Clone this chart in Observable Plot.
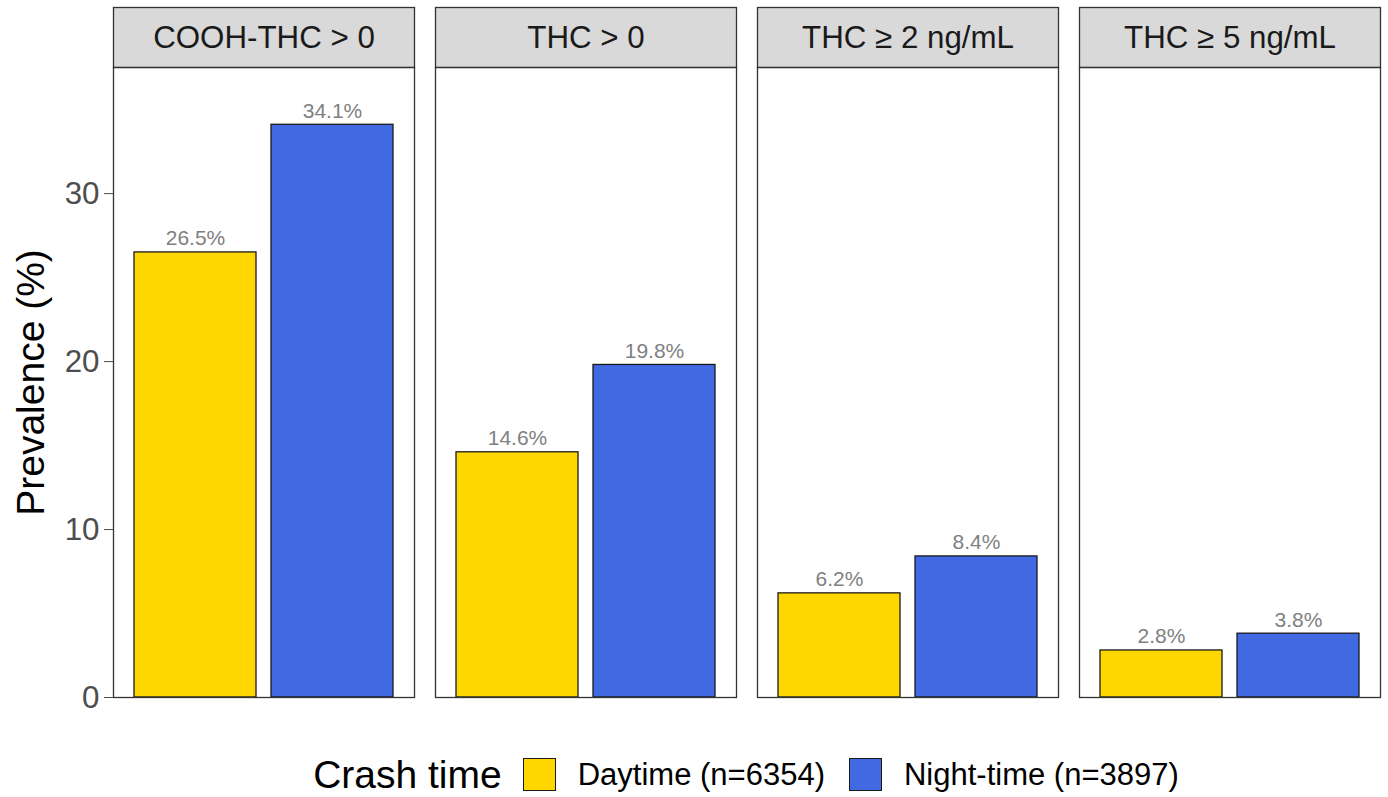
<!DOCTYPE html>
<html>
<head>
<meta charset="utf-8">
<script src="https://cdn.jsdelivr.net/npm/d3@7"></script>
<script src="https://cdn.jsdelivr.net/npm/@observablehq/plot@0.6"></script>
<style>
  html, body { margin: 0; padding: 0; background: #fff; }
  body { width: 1388px; height: 797px; overflow: hidden; font-family: "Liberation Sans", Arial, Helvetica, sans-serif; }
  #chart svg { display: block; }
  #legend { display: flex; align-items: center; justify-content: center; box-sizing: border-box;
    width: 1388px; padding-left: 112px; padding-right: 8px; margin-top: 28px; height: 33px; color: #000; }
  #legend .title { font-size: 39px; margin-right: 21px; }
  #legend .key { width: 31px; height: 31px; border: 1px solid #1a1a1a; margin-right: 22px; }
  #legend .lab { font-size: 31px; margin-right: 24px; }
  #legend .lab:last-child { margin-right: 0; }
</style>
</head>
<body>
<div id="chart"></div>
<div id="legend"></div>
<script>
// ---- data ----
const panels = ["COOH-THC > 0", "THC > 0", "THC \u2265 2 ng/mL", "THC \u2265 5 ng/mL"];
const times = ["Daytime", "Night-time"];
const daytimeValues = [26.5, 14.6, 6.2, 2.8];
const nightValues = [34.1, 19.8, 8.4, 3.8];
const legendTitle = "Crash time";
const legendLabels = ["Daytime (n=6354)", "Night-time (n=3897)"];
const timeColors = ["#FFD700", "#4169E1"];
const yTicks = [0, 10, 20, 30];
const yLabel = "Prevalence (%)";

const rows = [];
panels.forEach((p, i) => {
  rows.push({panel: p, time: times[0], value: daytimeValues[i]});
  rows.push({panel: p, time: times[1], value: nightValues[i]});
});

const W = 1388, H = 730, mTop = 67, mBottom = 33, mLeft = 112, mRight = 8;
const plotH = H - mTop - mBottom;
const stripH = 60;
const yMax = d3.max(rows, d => d.value) * 1.1;

const chart = Plot.plot({
  width: W,
  height: H,
  marginTop: mTop,
  marginBottom: mBottom,
  marginLeft: mLeft,
  marginRight: mRight,
  style: {fontFamily: '"Liberation Sans", Arial, Helvetica, sans-serif', background: "#fff"},
  fx: {domain: panels, axis: null, paddingInner: 21 / 322, paddingOuter: 0},
  x: {domain: times, axis: null, paddingInner: 0.1095, paddingOuter: 0.153},
  y: {domain: [0, yMax], axis: null},
  color: {domain: times, range: timeColors},
  marks: [
    // strip backgrounds
    Plot.frame({fill: "#d9d9d9", stroke: "#333333", strokeWidth: 1.3, insetTop: -stripH, insetBottom: plotH}),
    Plot.text(panels, {fx: d => d, text: d => d, frameAnchor: "top", lineAnchor: "middle", textAnchor: "middle",
      dy: -30, fontSize: 31.3, fill: "#1a1a1a"}),
    Plot.barY(rows, {fx: "panel", x: "time", y: "value", fill: "time", stroke: "#1a1a1a", strokeWidth: 1.3}),
    Plot.text(rows, {fx: "panel", x: "time", y: "value", text: d => d.value.toFixed(1) + "%",
      lineAnchor: "bottom", dy: -7, fontSize: 21, fill: "#808080"}),
    Plot.frame({stroke: "#333333", strokeWidth: 1.3}),
    Plot.axisY({ticks: yTicks, tickSize: 9, tickPadding: 5, fontSize: 31.3, color: "#4d4d4d", label: null}),
    Plot.text([panels[0]], {fx: d => d, text: [yLabel], frameAnchor: "left", textAnchor: "middle",
      lineAnchor: "middle", rotate: -90, dx: -82, fontSize: 39, fill: "#000"})
  ]
});
document.getElementById("chart").appendChild(chart);

// legend
const leg = document.getElementById("legend");
const t = document.createElement("span");
t.className = "title"; t.textContent = legendTitle; leg.appendChild(t);
legendLabels.forEach((lab, i) => {
  const k = document.createElement("span");
  k.className = "key"; k.style.background = timeColors[i]; leg.appendChild(k);
  const s = document.createElement("span");
  s.className = "lab"; s.textContent = lab; leg.appendChild(s);
});
</script>
</body>
</html>
